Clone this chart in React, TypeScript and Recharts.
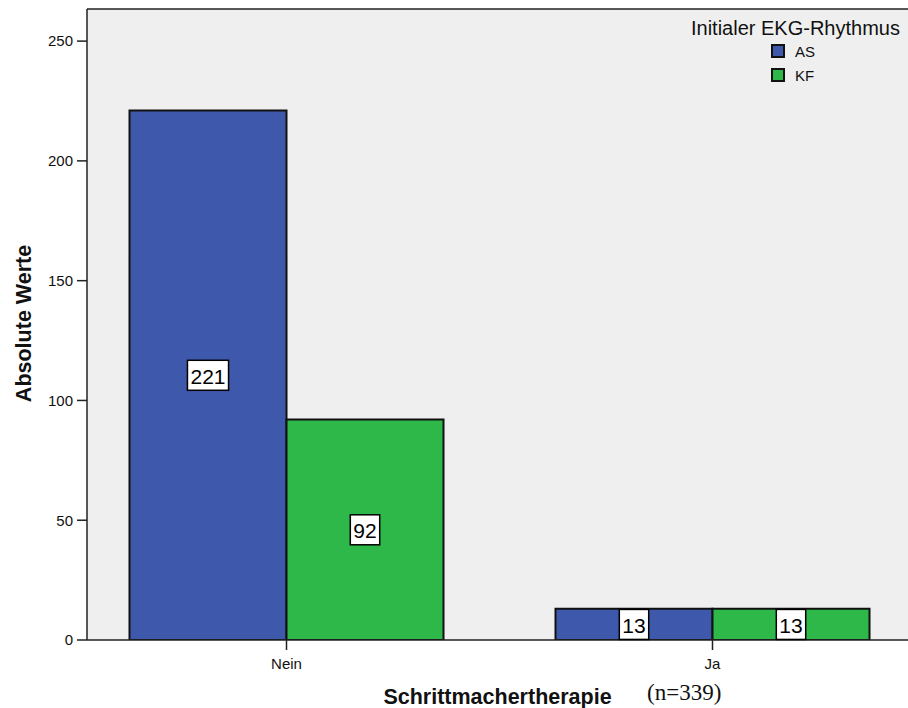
import React from "react";
import { BarChart, Bar, XAxis, YAxis, CartesianGrid, LabelList, ReferenceLine } from "recharts";

const categories = ["Nein", "Ja"];
const asValues = [221, 13];
const kfValues = [92, 13];
const yTicks = [0, 50, 100, 150, 200, 250];
const seriesNames = ["AS", "KF"];
const legendTitle = "Initialer EKG-Rhythmus";
const xTitle = "Schrittmachertherapie";
const nNote = "(n=339)";
const yTitle = "Absolute Werte";

const data = categories.map((c, i) => ({ cat: c, AS: asValues[i], KF: kfValues[i] }));

const BLUE = "#3E58AC";
const GREEN = "#2FB84A";
const FONT = "'Liberation Sans', Arial, sans-serif";
const Y_MAX = 263.4;

const BoxLabel = (props: any) => {
  const { x, y, width, height, value } = props;
  const cx = x + width / 2;
  const cy = y + height / 2;
  const s = String(value);
  const w = s.length * 11.7 + 6;
  const h = 30;
  return (
    <g>
      <rect x={cx - w / 2} y={cy - h / 2} width={w} height={h} fill="#fff" stroke="#000" strokeWidth={1.5} />
      <text x={cx} y={cy + 1} textAnchor="middle" dominantBaseline="central" fontSize={21} fontFamily={FONT} fill="#000">
        {s}
      </text>
    </g>
  );
};

const LegendBox = () => {
  const colors = [BLUE, GREEN];
  return (
    <div style={{ position: "absolute", left: 691, top: 17, width: 230, fontFamily: FONT, color: "#111" }}>
      <div style={{ fontSize: 20, lineHeight: "22px", textAlign: "left", whiteSpace: "nowrap" }}>{legendTitle}</div>
      {seriesNames.map((n, i) => (
        <div key={n} style={{ display: "flex", alignItems: "center", height: 24, marginLeft: 80 }}>
          <div style={{ width: 10, height: 10, background: colors[i], border: "2px solid #111", marginRight: 10 }} />
          <span style={{ fontSize: 15 }}>{n}</span>
        </div>
      ))}
    </div>
  );
};

const XTitle = (props: any) => {
  const vb = props.viewBox || {};
  const cx = vb.x + vb.width / 2;
  return (
    <g>
      <text x={cx} y={704} textAnchor="middle" fontSize={21.5} fontWeight="bold" fontFamily={FONT} fill="#111">
        {xTitle}
      </text>
      <text x={647} y={700} textAnchor="start" fontSize={23} fontFamily="'Liberation Serif', 'Times New Roman', serif" fill="#111">
        {nNote}
      </text>
    </g>
  );
};

export default function App() {
  return (
    <div style={{ position: "absolute", left: 0, top: 0, width: 908, height: 708, background: "#fff" }}>
      <BarChart
        width={908}
        height={708}
        data={data}
        margin={{ top: 9, right: 0, bottom: 0, left: 0 }}
        barGap={0}
        barSize={157}
      >
        <CartesianGrid horizontal={false} vertical={false} fill="#EFEFEF" />
        <ReferenceLine y={Y_MAX} stroke="#222" strokeWidth={1.5} ifOverflow="extendDomain" />
        <XAxis
          dataKey="cat"
          height={68}
          padding={{ left: -13.5, right: -17.5 }}
          axisLine={{ stroke: "#222", strokeWidth: 1.5 }}
          tickLine={{ stroke: "#222", strokeWidth: 1.5 }}
          tickSize={10}
          tickMargin={8}
          tick={{ fontSize: 15, fontFamily: FONT, fill: "#111" }}
          label={<XTitle />}
        />
        <YAxis
          width={87}
          domain={[0, Y_MAX]}
          ticks={yTicks}
          allowDataOverflow
          axisLine={{ stroke: "#222", strokeWidth: 1.5 }}
          tickLine={{ stroke: "#222", strokeWidth: 1.5 }}
          tickSize={10}
          tickMargin={4}
          tick={{ fontSize: 15, fontFamily: FONT, fill: "#111" }}
          label={{
            value: yTitle,
            angle: -90,
            position: "insideLeft",
            offset: 0,
            dx: 23,
            dy: -1,
            style: { fontSize: 21.5, fontWeight: "bold", fontFamily: FONT, fill: "#111", textAnchor: "middle" },
          }}
        />
        <Bar dataKey="AS" name="AS" fill={BLUE} stroke="#111" strokeWidth={2} isAnimationActive={false}>
          <LabelList dataKey="AS" content={<BoxLabel />} />
        </Bar>
        <Bar dataKey="KF" name="KF" fill={GREEN} stroke="#111" strokeWidth={2} isAnimationActive={false}>
          <LabelList dataKey="KF" content={<BoxLabel />} />
        </Bar>
      </BarChart>
      <LegendBox />
    </div>
  );
}
